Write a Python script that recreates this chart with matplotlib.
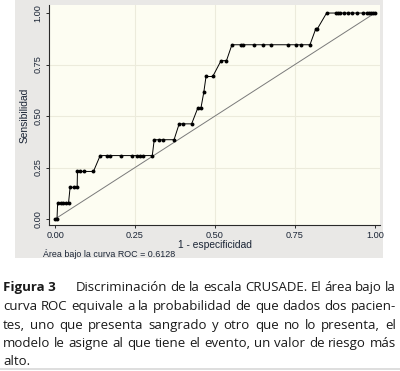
import matplotlib.pyplot as plt
from matplotlib.patches import Rectangle
from matplotlib.lines import Line2D

# ROC points (1 - especificidad, sensibilidad)
fpr = [0.000, 0.006,
       0.008, 0.017, 0.025, 0.033, 0.042,
       0.047, 0.060, 0.069,
       0.070, 0.078, 0.092, 0.120,
       0.141, 0.163, 0.172, 0.206, 0.240, 0.255, 0.266, 0.276, 0.304,
       0.310, 0.325, 0.338, 0.372,
       0.388, 0.401, 0.427,
       0.446, 0.456,
       0.465,
       0.472, 0.493,
       0.519, 0.536,
       0.553, 0.580, 0.589, 0.623, 0.651, 0.675, 0.727, 0.752, 0.770, 0.797,
       0.815, 0.820,
       0.849, 0.878, 0.885, 0.891, 0.904, 0.917, 0.930, 0.943, 0.964, 0.974,
       0.982, 0.988, 0.993, 1.000]
tpr = [0.000, 0.000,
       0.077, 0.077, 0.077, 0.077, 0.077,
       0.154, 0.154, 0.154,
       0.231, 0.231, 0.231, 0.231,
       0.308, 0.308, 0.308, 0.308, 0.308, 0.308, 0.308, 0.308, 0.308,
       0.385, 0.385, 0.385, 0.385,
       0.462, 0.462, 0.462,
       0.538, 0.538,
       0.615,
       0.692, 0.692,
       0.769, 0.769,
       0.846, 0.846, 0.846, 0.846, 0.846, 0.846, 0.846, 0.846, 0.846, 0.846,
       0.923, 0.923,
       1.000, 1.000, 1.000, 1.000, 1.000, 1.000, 1.000, 1.000, 1.000, 1.000,
       1.000, 1.000, 1.000, 1.000]
ticks = [0.0, 0.25, 0.5, 0.75, 1.0]
tick_labels = ["0.00", "0.25", "0.50", "0.75", "1.00"]
auc_note = "Área bajo la curva ROC = 0.6128"
caption_lines = [
    "Discriminación de la escala CRUSADE. El área bajo la",
    "curva ROC equivale a la probabilidad de que dados dos pacien-",
    "tes, uno que presenta sangrado y otro que no lo presenta, el",
    "modelo le asigne al que tiene el evento, un valor de riesgo más",
    "alto.",
]

W, H = 400, 371
fig = plt.figure(figsize=(W / 100, H / 100), dpi=100)
fig.patch.set_facecolor("white")

def fx(px):
    return px / W

def fy(py):
    return 1 - py / H

# gray Stata panel
fig.patches.append(Rectangle((fx(15), fy(258)), fx(383) - fx(15), fy(0) - fy(258),
                             transform=fig.transFigure, facecolor="#e9e8e6",
                             edgecolor="none", zorder=-5))

ax = fig.add_axes([fx(49), fy(225), fx(380) - fx(49), fy(5) - fy(225)])
ax.set_zorder(2)
ax.set_facecolor("#fdfdf2")
ax.set_xlim(-0.019, 1.016)
ax.set_ylim(-0.029, 1.039)

for t in ticks[1:-1]:
    ax.axvline(t, color="#ecebdc", lw=0.8, zorder=0)
    ax.axhline(t, color="#ecebdc", lw=0.8, zorder=0)

ax.plot([0, 1], [0, 1], color="#7a7a7a", lw=0.7, zorder=2)
ax.plot(fpr, tpr, color="black", lw=0.7, marker="o", markersize=2.8,
        markerfacecolor="black", markeredgewidth=0, zorder=3)

for side in ["top", "right"]:
    ax.spines[side].set_visible(False)
for side in ["left", "bottom"]:
    ax.spines[side].set_color("#2a2a2a")
    ax.spines[side].set_linewidth(0.8)

lab_color = "#1b2536"
ax.set_xticks(ticks)
ax.set_xticklabels(tick_labels)
ax.set_yticks(ticks)
ax.set_yticklabels(tick_labels, rotation=90, va="center")
ax.tick_params(direction="out", length=2.5, width=0.7, labelsize=6.6,
               colors="#2a2a2a", labelcolor=lab_color, pad=2)
for lbl in ax.get_xticklabels() + ax.get_yticklabels():
    lbl.set_family("Liberation Sans")

ax.set_xlabel("1 - especificidad", fontsize=7.4, family="Liberation Sans",
              color=lab_color, labelpad=0)
ax.set_ylabel("Sensibilidad", fontsize=7.4, family="Liberation Sans",
              color=lab_color, labelpad=3)

fig.text(fx(43), fy(257), auc_note, fontsize=6.4, family="Liberation Sans",
         color=lab_color, ha="left", va="baseline")

# caption, justified word by word
fig.canvas.draw()
renderer = fig.canvas.get_renderer()
cap_font = dict(fontsize=10, family="Open Sans", color="#1a1a1a")

def width_px(txt, **kw):
    t = fig.text(0, 0, txt, **{**cap_font, **kw})
    w = t.get_window_extent(renderer).width
    t.remove()
    return w

# scale the font so the widest full line fits the 393 px column
cap_font["fontsize"] = 10 * 388 / max(width_px(l) for l in caption_lines[1:4])
baselines = [291, 310, 329, 347, 365]

fig.text(fx(3), fy(baselines[0]), "Figura 3", fontweight="bold",
         ha="left", va="baseline", **cap_font)

space_w = width_px("a b") - width_px("ab")
for i, (line, base) in enumerate(zip(caption_lines, baselines)):
    left = 76 if i == 0 else 3
    right = 396
    words = line.split(" ")
    widths = [width_px(w) for w in words]
    last = i == len(caption_lines) - 1
    if last or len(words) < 2:
        gap = space_w
    else:
        gap = (right - left - sum(widths)) / (len(words) - 1)
    x = left
    for w, wd in zip(words, widths):
        fig.text(fx(x), fy(base), w, ha="left", va="baseline", **cap_font)
        x += wd + gap

fig.lines.append(Line2D([fx(0), fx(400)], [fy(369), fy(369)], transform=fig.transFigure,
                        color="#d8d8d8", lw=1.2))

fig.savefig("out.png", dpi=100)
